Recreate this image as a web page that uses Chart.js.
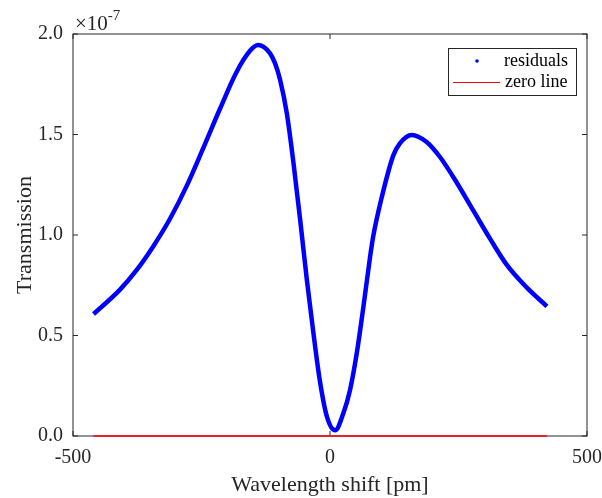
<!DOCTYPE html>
<html>
<head>
<meta charset="utf-8">
<script src="https://cdn.jsdelivr.net/npm/chart.js@4.4.1/dist/chart.umd.min.js"></script>
<style>
  body { margin: 0; background: #fff; }
  #wrap { width: 602px; height: 498px; }
</style>
</head>
<body>
<div id="wrap"><canvas id="residualChart" width="602" height="498"></canvas></div>
<script>
// wavelength shift in pm, residuals in units of 1e-7
const wavelengthShift = [-460, -409, -376, -344, -311, -279, -247, -214, -182, -156, -140, -117, -107, -97, -84, -71, -58, -45, -33, -20, -6, 10, 26, 39, 52, 65, 78, 84, 101, 123, 136, 159, 188, 214, 247, 279, 311, 344, 383, 422];
const residuals = [0.607, 0.727, 0.826, 0.943, 1.082, 1.243, 1.430, 1.628, 1.810, 1.915, 1.945, 1.905, 1.855, 1.771, 1.605, 1.357, 1.075, 0.776, 0.527, 0.279, 0.096, 0.028, 0.113, 0.229, 0.411, 0.643, 0.892, 0.992, 1.191, 1.395, 1.456, 1.498, 1.463, 1.388, 1.259, 1.121, 0.983, 0.851, 0.738, 0.645];
const zeroLineX = [-460, 422];
const zeroLineY = [0, 0];
const xTicks = [-500, 0, 500];
const yTicks = [0, 0.5, 1.0, 1.5, 2.0];

const serif = "'Liberation Serif', 'DejaVu Serif', serif";
const axisColor = '#262626';

// box, inward ticks, exponent and legend drawn by hand (matlab look)
const matlabAxes = {
    id: 'matlabAxes',
    beforeDatasetsDraw(chart) {
        const ctx = chart.ctx;
        const a = chart.chartArea;
        const xs = chart.scales.x, ys = chart.scales.y;
        const tl = 5;
        ctx.save();
        ctx.strokeStyle = axisColor;
        ctx.lineWidth = 1;
        ctx.strokeRect(a.left, a.top, a.right - a.left, a.bottom - a.top);
        ctx.beginPath();
        xTicks.forEach(v => {
            const px = xs.getPixelForValue(v);
            ctx.moveTo(px, a.bottom); ctx.lineTo(px, a.bottom - tl);
            ctx.moveTo(px, a.top); ctx.lineTo(px, a.top + tl);
        });
        yTicks.forEach(v => {
            const py = ys.getPixelForValue(v);
            ctx.moveTo(a.left, py); ctx.lineTo(a.left + tl, py);
            ctx.moveTo(a.right, py); ctx.lineTo(a.right - tl, py);
        });
        ctx.stroke();

        ctx.fillStyle = axisColor;
        ctx.textBaseline = 'alphabetic';
        ctx.textAlign = 'left';
        ctx.font = '21px ' + serif;
        ctx.fillText('\u00d710', a.left + 2, a.top - 4);
        const w = ctx.measureText('\u00d710').width;
        ctx.font = '15px ' + serif;
        ctx.fillText('-7', a.left + 2 + w, a.top - 14);
        ctx.restore();
    },
    afterDraw(chart) {
        const ctx = chart.ctx;
        const ds = chart.data.datasets;
        const bx = 448, by = 48, bw = 128, bh = 47;
        ctx.save();
        ctx.fillStyle = '#fff';
        ctx.fillRect(bx, by, bw, bh);
        ctx.strokeStyle = axisColor;
        ctx.lineWidth = 1;
        ctx.strokeRect(bx + 0.5, by + 0.5, bw, bh);

        ctx.fillStyle = ds[0].borderColor;
        ctx.beginPath();
        ctx.arc(477, 61, 1.8, 0, Math.PI * 2);
        ctx.fill();

        ctx.strokeStyle = ds[1].borderColor;
        ctx.beginPath();
        ctx.moveTo(453, 82.5); ctx.lineTo(500, 82.5);
        ctx.stroke();

        ctx.fillStyle = '#000';
        ctx.font = '18px ' + serif;
        ctx.textBaseline = 'middle';
        ctx.fillText(ds[0].label, 504, 61);
        ctx.fillText(ds[1].label, 505, 82);
        ctx.restore();
    }
};

const ctx = document.getElementById('residualChart').getContext('2d');

new Chart(ctx, {
    type: 'line',
    data: {
        datasets: [
            {
                label: 'residuals',
                data: wavelengthShift.map((x, i) => ({ x: x, y: residuals[i] })),
                borderColor: '#0000ff',
                backgroundColor: '#0000ff',
                borderWidth: 4.5,
                pointRadius: 0,
                cubicInterpolationMode: 'monotone',
                fill: false
            },
            {
                label: 'zero line',
                data: zeroLineX.map((x, i) => ({ x: x, y: zeroLineY[i] })),
                borderColor: '#ff0000',
                backgroundColor: '#ff0000',
                borderWidth: 1.5,
                pointRadius: 0,
                clip: false,
                fill: false
            }
        ]
    },
    options: {
        responsive: false,
        animation: false,
        events: [],
        layout: { padding: { top: 34, right: 15, left: 0, bottom: 0 } },
        plugins: {
            legend: { display: false },
            tooltip: { enabled: false }
        },
        scales: {
            x: {
                type: 'linear',
                min: -500,
                max: 500,
                afterBuildTicks: s => { s.ticks = xTicks.map(v => ({ value: v })); },
                afterFit: s => { s.height = 62; s.paddingLeft = 0; s.paddingRight = 0; },
                grid: { display: false },
                border: { display: false },
                ticks: {
                    color: axisColor,
                    font: { family: serif, size: 20 },
                    padding: 2,
                    maxRotation: 0,
                    callback: v => String(v)
                },
                title: {
                    display: true,
                    text: 'Wavelength shift [pm]',
                    color: axisColor,
                    font: { family: serif, size: 22 },
                    padding: { top: 0, bottom: 0 }
                }
            },
            y: {
                type: 'linear',
                min: 0,
                max: 2,
                afterBuildTicks: s => { s.ticks = yTicks.map(v => ({ value: v })); },
                afterFit: s => { s.width = 73; s.paddingTop = 0; s.paddingBottom = 0; },
                grid: { display: false },
                border: { display: false },
                ticks: {
                    color: axisColor,
                    font: { family: serif, size: 20 },
                    padding: 2,
                    callback: v => v.toFixed(1)
                },
                title: {
                    display: true,
                    text: 'Transmission',
                    color: axisColor,
                    font: { family: serif, size: 22 },
                    padding: { top: 12, bottom: 0 }
                }
            }
        }
    },
    plugins: [matlabAxes]
});
</script>
</body>
</html>
